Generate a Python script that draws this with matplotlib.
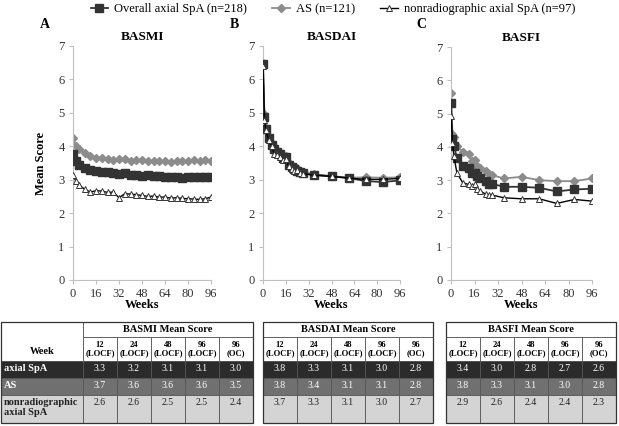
import matplotlib
matplotlib.use('Agg')
import matplotlib.pyplot as plt
from matplotlib.patches import Rectangle

plt.rcParams['font.family'] = ['Liberation Serif', 'DejaVu Serif']

# ---- line data (mean scores by week) ----
basmi_weeks = [0, 2, 4, 8, 12, 16, 20, 24, 28, 32, 36, 40, 44, 48, 52, 56, 60, 64, 68, 72, 76, 80, 84, 88, 92, 96]
basmi_all = [3.76, 3.55, 3.45, 3.35, 3.30, 3.25, 3.23, 3.22, 3.20, 3.17, 3.19, 3.13, 3.14, 3.12, 3.15, 3.12,
             3.10, 3.09, 3.08, 3.07, 3.06, 3.07, 3.07, 3.07, 3.08, 3.09]
basmi_as = [4.25, 4.02, 3.92, 3.80, 3.70, 3.66, 3.65, 3.63, 3.60, 3.62, 3.63, 3.56, 3.59, 3.58, 3.57, 3.57,
            3.56, 3.56, 3.54, 3.56, 3.57, 3.56, 3.58, 3.57, 3.59, 3.56]
basmi_nr = [3.15, 2.95, 2.85, 2.72, 2.63, 2.67, 2.66, 2.62, 2.63, 2.46, 2.58, 2.57, 2.55, 2.53, 2.50, 2.51,
            2.48, 2.48, 2.45, 2.46, 2.44, 2.43, 2.42, 2.41, 2.43, 2.48]

basdai_weeks = [0, 1, 2, 4, 6, 8, 10, 12, 14, 16, 18, 20, 22, 24, 26, 28, 36, 48, 60, 72, 84, 96]
basdai_all = [6.45, 4.88, 4.52, 4.25, 4.05, 3.92, 3.84, 3.76, 3.64, 3.68, 3.45, 3.38, 3.31, 3.27, 3.22, 3.20,
              3.15, 3.10, 3.05, 2.96, 2.93, 2.98]
basdai_as = [6.48, 4.98, 4.55, 4.28, 4.08, 3.95, 3.86, 3.78, 3.68, 3.72, 3.50, 3.42, 3.36, 3.36, 3.25, 3.22,
             3.16, 3.11, 3.06, 3.07, 3.06, 3.07]
basdai_nr = [6.40, 4.80, 4.48, 4.20, 4.00, 3.78, 3.75, 3.68, 3.58, 3.62, 3.40, 3.32, 3.27, 3.28, 3.20, 3.18,
             3.13, 3.10, 3.05, 3.01, 3.01, 3.04]

basfi_weeks = [0, 1, 2, 4, 8, 12, 14, 16, 18, 20, 24, 26, 28, 36, 48, 60, 72, 84, 96]
basfi_all = [5.33, 4.25, 4.03, 3.68, 3.43, 3.36, 3.22, 3.20, 3.12, 3.07, 2.97, 2.89, 2.89, 2.80, 2.80, 2.77,
             2.66, 2.72, 2.74]
basfi_as = [5.62, 4.38, 4.30, 4.03, 3.85, 3.78, 3.57, 3.60, 3.42, 3.37, 3.27, 3.18, 3.15, 3.05, 3.10, 3.00,
            2.97, 2.97, 3.05]
basfi_nr = [4.94, 4.13, 3.72, 3.22, 2.92, 2.87, 2.82, 2.87, 2.72, 2.67, 2.57, 2.55, 2.55, 2.47, 2.44, 2.44,
            2.30, 2.42, 2.37]

series_labels = ['Overall axial SpA (n=218)', 'AS (n=121)', 'nonradiographic axial SpA (n=97)']

# ---- table data ----
table_cols = ['12\n(LOCF)', '24\n(LOCF)', '48\n(LOCF)', '96\n(LOCF)', '96\n(OC)']
row_labels = ['axial SpA', 'AS', 'nonradiographic\naxial SpA']
basmi_table = [[3.3, 3.2, 3.1, 3.1, 3.0], [3.7, 3.6, 3.6, 3.6, 3.5], [2.6, 2.6, 2.5, 2.5, 2.4]]
basdai_table = [[3.8, 3.3, 3.1, 3.0, 2.8], [3.8, 3.4, 3.1, 3.1, 2.8], [3.7, 3.3, 3.1, 3.0, 2.7]]
basfi_table = [[3.4, 3.0, 2.8, 2.7, 2.6], [3.8, 3.3, 3.1, 3.0, 2.8], [2.9, 2.6, 2.4, 2.4, 2.3]]

W, H = 619, 426
fig = plt.figure(figsize=(W / 100, H / 100), dpi=100)


def px_axes(x0, y0, x1, y1):
    return fig.add_axes([x0 / W, 1 - y1 / H, (x1 - x0) / W, (y1 - y0) / H])


panels = [
    ('A', 'BASMI', 73, 211, 46, 45, basmi_weeks, basmi_all, basmi_as, basmi_nr),
    ('B', 'BASDAI', 263, 400, 46, 234, basdai_weeks, basdai_all, basdai_as, basdai_nr),
    ('C', 'BASFI', 451, 592, 47, 421, basfi_weeks, basfi_all, basfi_as, basfi_nr),
]

handles = None
for letter, name, x0, x1, ytop, lx, wk, y_all, y_as, y_nr in panels:
    ax = px_axes(x0, ytop, x1, 280)
    h2, = ax.plot(wk, y_as, color='#8c8c8c', marker='D', ms=3.6, lw=1.3, zorder=2)
    h1, = ax.plot(wk, y_all, color='#333333', marker='s', ms=5.5, lw=1.3, zorder=3)
    h3, = ax.plot(wk, y_nr, color='black', marker='^', ms=4, mfc='white', mec='#333333',
                  mew=0.7, lw=1.0, zorder=4)
    handles = [h1, h2, h3]
    ax.set_xlim(0, 96)
    ax.set_ylim(0, 7)
    ax.set_xticks(range(0, 97, 16))
    ax.set_yticks(range(0, 8))
    for s in ['top', 'right']:
        ax.spines[s].set_visible(False)
    for s in ['left', 'bottom']:
        ax.spines[s].set_color('#c0c0c0')
        ax.spines[s].set_linewidth(0.8)
    ax.tick_params(direction='out', length=3, color='#c0c0c0', labelsize=9,
                   labelcolor='#333333', pad=3)
    ax.set_xlabel('Weeks', fontweight='bold', fontsize=9, labelpad=-1)
    ax.set_title(name, fontweight='bold', fontsize=9.5, pad=4)
    if letter == 'A':
        ax.set_ylabel('Mean Score', fontweight='bold', fontsize=9, labelpad=8)
    fig.text(lx / W, 1 - 24 / H, letter, fontweight='bold', fontsize=10, ha='center', va='center')

fig.legend(handles, series_labels, loc='center', bbox_to_anchor=(333 / W, 1 - 9 / H), ncol=3,
           frameon=False, fontsize=9, handlelength=1.4, handletextpad=0.5, columnspacing=2.0,
           borderaxespad=0, borderpad=0)

# ---- tables ----
tab = fig.add_axes([0, 0, 1, 1])
tab.set_xlim(0, W)
tab.set_ylim(H, 0)
tab.axis('off')

row_y = [322, 337, 361, 378, 395, 423]
row_fill = ['#2b2b2b', '#707070', '#d4d4d4']
row_text = ['white', 'white', '#222222']
col_w = 34
edge = '#555555'


def cell(x, y, w, h, fc):
    tab.add_patch(Rectangle((x, y), w, h, facecolor=fc, edgecolor=edge, lw=0.6))


def draw_table(x0, title, values, with_labels):
    xs = x0
    if with_labels:
        lw_ = 82
        cell(x0, row_y[0], lw_, row_y[2] - row_y[0], 'white')
        tab.text(x0 + lw_ / 2, row_y[2] - 5, 'Week', fontsize=7.5, fontweight='bold',
                 ha='center', va='bottom')
        for i, lab in enumerate(row_labels):
            cell(x0, row_y[i + 2], lw_, row_y[i + 3] - row_y[i + 2], row_fill[i])
            tab.text(x0 + 3, row_y[i + 2] + 3, lab, fontsize=7.5, fontweight='bold',
                     color=row_text[i], ha='left', va='top', linespacing=1.1)
        xs = x0 + lw_
    n = len(table_cols)
    cell(xs, row_y[0], col_w * n, row_y[1] - row_y[0], 'white')
    tab.text(xs + col_w * n / 2, (row_y[0] + row_y[1]) / 2, title, fontsize=7.5, fontweight='bold',
             ha='center', va='center')
    for j, c in enumerate(table_cols):
        cx = xs + j * col_w
        cell(cx, row_y[1], col_w, row_y[2] - row_y[1], 'white')
        tab.text(cx + col_w / 2, (row_y[1] + row_y[2]) / 2, c, fontsize=6.2, fontweight='bold',
                 ha='center', va='center', linespacing=1.0)
        for i in range(3):
            cell(cx, row_y[i + 2], col_w, row_y[i + 3] - row_y[i + 2], row_fill[i])
            tab.text(cx + col_w / 2, row_y[i + 2] + 3, '%.1f' % values[i][j], fontsize=7,
                     color=row_text[i], ha='center', va='top')
    xe = xs + col_w * n
    tab.add_patch(Rectangle((x0, row_y[0]), xe - x0, row_y[-1] - row_y[0], facecolor='none',
                            edgecolor='#333333', lw=0.9))


draw_table(1, 'BASMI Mean Score', basmi_table, True)
draw_table(263, 'BASDAI Mean Score', basdai_table, False)
draw_table(446, 'BASFI Mean Score', basfi_table, False)

fig.savefig('out.png', dpi=100)
